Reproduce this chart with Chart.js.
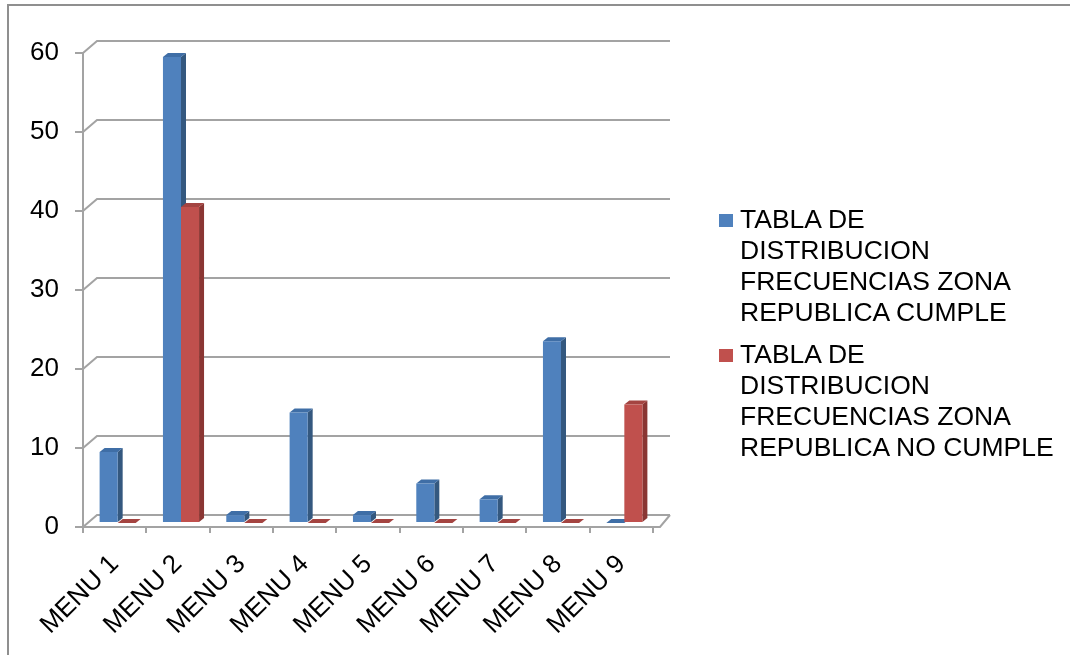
<!DOCTYPE html>
<html>
<head>
<meta charset="utf-8">
<script src="https://cdn.jsdelivr.net/npm/chart.js@4.4.1/dist/chart.umd.min.js"></script>
<style>
  html, body { margin: 0; padding: 0; background: #fff; }
  #wrap { position: relative; width: 1070px; height: 655px; overflow: hidden; }
  #marco { position: absolute; left: 7px; top: 4px; width: 1100px; height: 700px;
           border-top: 2px solid #8f8f8f; border-left: 2px solid #8f8f8f; }
  #chart-menu { position: absolute; left: 0; top: 0; }
  #leyenda { position: absolute; left: 719px; top: 0; font-family: "Liberation Sans", Arial, sans-serif;
             font-size: 26.5px; line-height: 31px; color: #000; }
  .item { position: absolute; left: 0; white-space: nowrap; }
  .caja { position: absolute; left: 0; width: 14px; height: 13px; }
  .txt { position: absolute; left: 21px; top: 0; }
</style>
</head>
<body>
<div id="wrap">
  <div id="marco"></div>
  <canvas id="chart-menu" width="1070" height="655"></canvas>
  <div id="leyenda"></div>
</div>
<script>
// menus evaluados
var categorias = ['MENU 1', 'MENU 2', 'MENU 3', 'MENU 4', 'MENU 5', 'MENU 6', 'MENU 7', 'MENU 8', 'MENU 9'];

// frecuencias por menu
var cumple   = [9, 59, 1, 14, 1, 5, 3, 23, 0];
var noCumple = [0, 40, 0, 0, 0, 0, 0, 0, 15];

// eje vertical
var yMin = 0, yMax = 60, yPaso = 10;

// textos de la leyenda, una linea por elemento
var serieCumple   = ['TABLA DE', 'DISTRIBUCION', 'FRECUENCIAS ZONA', 'REPUBLICA CUMPLE'];
var serieNoCumple = ['TABLA DE', 'DISTRIBUCION', 'FRECUENCIAS ZONA', 'REPUBLICA NO CUMPLE'];

var azul = { frente: '#4f81bd', lado: '#34587f', tapa: '#3f6ea6' };
var rojo = { frente: '#c0504d', lado: '#8a3633', tapa: '#a44441' };

var gris = '#a3a3a3';
var fondoX = 14, fondoY = -12;   // profundidad de las paredes
var barX = 3, barY = -4;         // posicion de las barras dentro del piso
var prof = 5, profY = -4;        // grosor de cada barra

// paredes, piso y caras laterales de las barras
var pseudo3d = {
    id: 'pseudo3d',
    beforeDatasetsDraw: function(chart) {
	var ctx = chart.ctx;
	var a = chart.chartArea;
	var y = chart.scales.y;

	ctx.save();
	ctx.strokeStyle = gris;
	ctx.lineWidth = 2;
	y.ticks.forEach(function(t) {
	    var py = y.getPixelForValue(t.value);
	    ctx.beginPath();
	    ctx.moveTo(a.left, py);
	    ctx.lineTo(a.left + fondoX, py + fondoY);
	    ctx.lineTo(a.right + fondoX + 3, py + fondoY);
	    ctx.stroke();
	});
	// borde derecho del piso
	var base = y.getPixelForValue(0);
	ctx.beginPath();
	ctx.moveTo(a.left, base);
	ctx.lineTo(a.right + 7, base);
	ctx.lineTo(a.right + fondoX + 3, base + fondoY);
	ctx.stroke();
	ctx.restore();

	// las barras se dibujan un poco hacia el fondo
	ctx.save();
	ctx.translate(barX, barY);
	var colores = [azul, rojo];
	chart.data.datasets.forEach(function(ds, i) {
	    var c = colores[i];
	    chart.getDatasetMeta(i).data.forEach(function(bar) {
		var x0 = bar.x - bar.width / 2;
		var x1 = bar.x + bar.width / 2;
		var top = Math.min(bar.y, bar.base);
		// lado
		ctx.fillStyle = c.lado;
		ctx.beginPath();
		ctx.moveTo(x1, top);
		ctx.lineTo(x1 + prof, top + profY);
		ctx.lineTo(x1 + prof, bar.base + profY);
		ctx.lineTo(x1, bar.base);
		ctx.closePath();
		ctx.fill();
		// tapa
		ctx.fillStyle = c.tapa;
		ctx.beginPath();
		ctx.moveTo(x0, top);
		ctx.lineTo(x1, top);
		ctx.lineTo(x1 + prof, top + profY);
		ctx.lineTo(x0 + prof, top + profY);
		ctx.closePath();
		ctx.fill();
	    });
	});
    },
    afterDatasetsDraw: function(chart) {
	chart.ctx.restore();
    }
};

var config = {
    type: 'bar',
    data: {
	labels: categorias,
	datasets: [
	    {
		label: serieCumple.join(' '),
		data: cumple,
		backgroundColor: azul.frente,
		categoryPercentage: 0.57,
		barPercentage: 1.0,
		clip: false
	    },
	    {
		label: serieNoCumple.join(' '),
		data: noCumple,
		backgroundColor: rojo.frente,
		categoryPercentage: 0.57,
		barPercentage: 1.0,
		clip: false
	    }
	]
    },
    options: {
	responsive: false,
	animation: false,
	layout: { padding: { left: 0, top: 53, right: 417, bottom: 0 } },
	plugins: {
	    legend: { display: false },
	    tooltip: { enabled: false }
	},
	scales: {
	    x: {
		offset: true,
		grid: { offset: true, drawOnChartArea: false, color: gris, lineWidth: 2, tickLength: 6 },
		border: { color: gris, width: 2 },
		ticks: {
		    color: '#000',
		    font: { family: 'Liberation Sans', size: 26 },
		    maxRotation: 45,
		    minRotation: 45,
		    padding: 16
		},
		afterFit: function(s) { s.height = 128; }
	    },
	    y: {
		min: yMin,
		max: yMax,
		grid: { drawOnChartArea: false, color: gris, lineWidth: 2, tickLength: 8 },
		border: { color: gris, width: 2 },
		ticks: {
		    stepSize: yPaso,
		    color: '#000',
		    font: { family: 'Liberation Sans', size: 26 },
		    padding: 16
		},
		afterFit: function(s) { s.width = 83; }
	    }
	}
    },
    plugins: [pseudo3d]
};

// leyenda a la derecha
function pintarLeyenda() {
    var cont = document.getElementById('leyenda');
    var series = [[serieCumple, azul.frente, 204], [serieNoCumple, rojo.frente, 339]];
    series.forEach(function(s) {
	var item = document.createElement('div');
	item.className = 'item';
	item.style.top = s[2] + 'px';
	var caja = document.createElement('div');
	caja.className = 'caja';
	caja.style.background = s[1];
	caja.style.top = '10px';
	var txt = document.createElement('div');
	txt.className = 'txt';
	txt.innerHTML = s[0].join('<br>');
	item.appendChild(caja);
	item.appendChild(txt);
	cont.appendChild(item);
    });
}

window.onload = function() {
    var ctx = document.getElementById('chart-menu').getContext('2d');
    window.menus = new Chart(ctx, config);
    pintarLeyenda();
};
</script>
</body>
</html>
